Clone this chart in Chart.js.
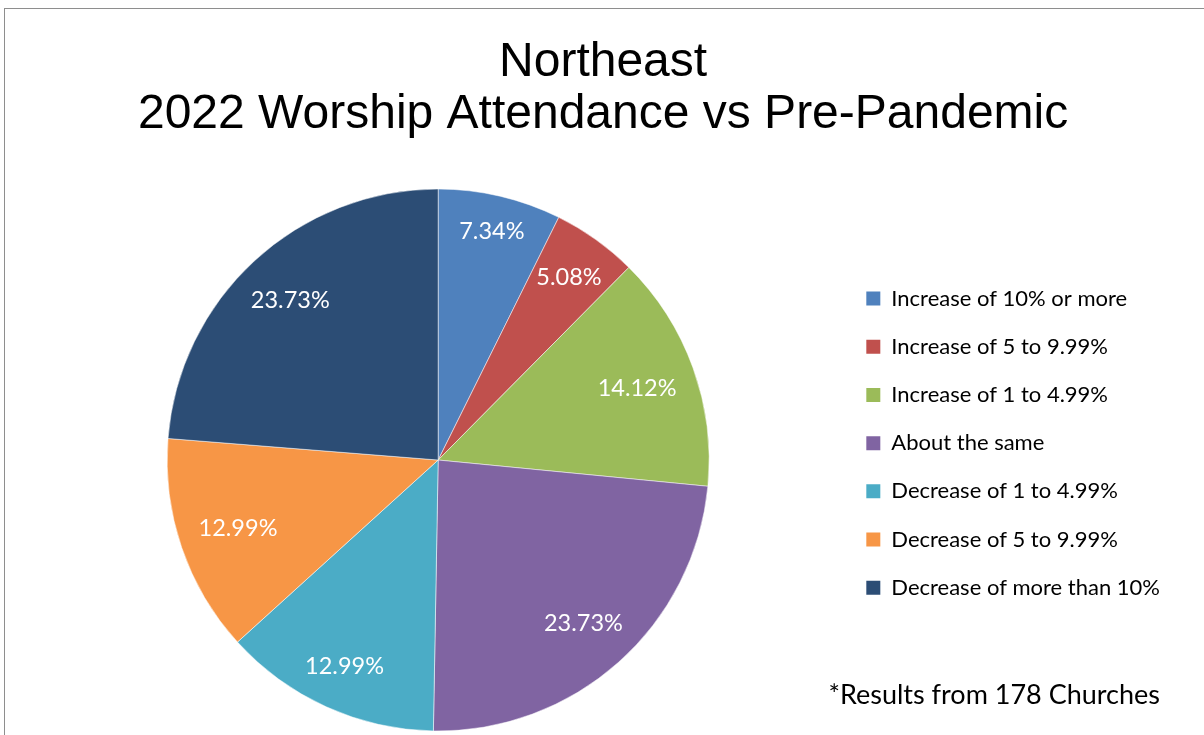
<!DOCTYPE html>
<html>
<head>
<meta charset="utf-8">
<title>Northeast 2022 Worship Attendance vs Pre-Pandemic</title>
<script src="https://cdn.jsdelivr.net/npm/chart.js@4.4.1/dist/chart.umd.min.js"></script>
<style>
  html, body { margin: 0; padding: 0; background: #fff; overflow: hidden; }
  #wrap { position: relative; width: 1204px; height: 735px; }
  #frame { position: absolute; left: 4px; top: 8px; width: 1260px; height: 800px; border: 1px solid #8e8e8e; }
  #chart { position: absolute; left: 0; top: 0; }
  #note { position: absolute; right: 44px; top: 678px; font: 27px Lato, sans-serif; color: #000; line-height: 32px; }
</style>
</head>
<body>
<div id="wrap">
  <div id="frame"></div>
  <canvas id="chart" width="1204" height="735"></canvas>
  <div id="note">*Results from 178 Churches</div>
</div>
<script>
// Data
const categories = ['Increase of 10% or more', 'Increase of 5 to 9.99%', 'Increase of 1 to 4.99%',
  'About the same', 'Decrease of 1 to 4.99%', 'Decrease of 5 to 9.99%', 'Decrease of more than 10%'];
const shares = [7.34, 5.08, 14.12, 23.73, 12.99, 12.99, 23.73];
const titleLines = ['Northeast', '2022 Worship Attendance vs Pre-Pandemic'];

// Office 2010 palette
const palette = ['#4f81bd', '#c0504d', '#9bbb59', '#8064a2', '#4bacc6', '#f79646', '#2c4d75'];

// percentage labels inside the slices, pulled in so the text box stays clear of the rim
const sliceLabels = {
  id: 'sliceLabels',
  afterDatasetsDraw(chart) {
    const ctx = chart.ctx;
    const meta = chart.getDatasetMeta(0);
    ctx.save();
    ctx.fillStyle = '#fff';
    ctx.font = '23.5px Lato';
    ctx.textAlign = 'center';
    ctx.textBaseline = 'middle';
    meta.data.forEach((arc, i) => {
      const p = arc.getProps(['x', 'y', 'startAngle', 'endAngle', 'outerRadius'], true);
      const mid = (p.startAngle + p.endAngle) / 2;
      const txt = shares[i].toFixed(2) + '%';
      const w = ctx.measureText(txt).width;
      const r = p.outerRadius * 0.93 - (Math.abs(Math.sin(mid)) * 10 + Math.abs(Math.cos(mid)) * w / 2);
      ctx.fillText(txt, p.x + Math.cos(mid) * r, p.y + Math.sin(mid) * r);
    });
    ctx.restore();
  }
};

const ctx = document.getElementById('chart');

new Chart(ctx, {
  type: 'pie',
  data: {
    labels: categories,
    datasets: [{
      data: shares,
      backgroundColor: palette,
      borderColor: 'rgba(255,255,255,0.5)',
      borderWidth: 1,
      radius: 271,
      clip: false
    }]
  },
  options: {
    responsive: false,
    animation: false,
    layout: {
      padding: { top: 0, left: 36.2, right: 34, bottom: 76.3 }
    },
    plugins: {
      title: {
        display: true,
        text: titleLines,
        color: '#000',
        font: { family: "'Liberation Sans', Arial, sans-serif", size: 48, weight: 'normal', lineHeight: 1.09 },
        padding: { top: 36.4, bottom: 120.3 }
      },
      legend: {
        position: 'right',
        align: 'start',
        fullSize: false,
        labels: {
          color: '#000',
          font: { family: 'Lato', size: 22 },
          boxWidth: 14,
          boxHeight: 14,
          padding: 26.2,
          generateLabels(chart) {
            const items = Chart.overrides.doughnut.plugins.legend.labels.generateLabels(chart);
            items.forEach(it => { it.lineWidth = 0; });
            return items;
          }
        }
      },
      tooltip: { enabled: false }
    }
  },
  plugins: [sliceLabels]
});
</script>
</body>
</html>
